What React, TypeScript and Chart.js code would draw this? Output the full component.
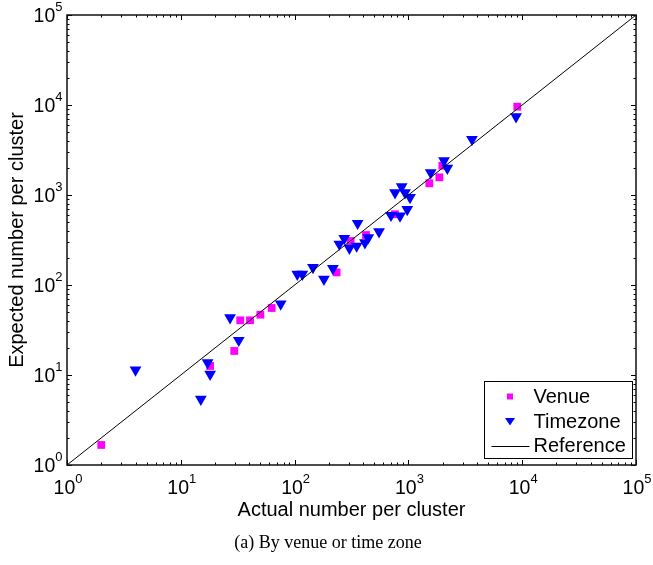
import React, { useEffect, useRef } from "react";
import { Chart, registerables } from "chart.js";

Chart.register(...registerables);

const venueX = [2, 18.1, 29.5, 33.3, 40.6, 50, 62.9, 234, 311, 424, 762, 1527, 1870, 1987, 9058];
const venueY = [1.67, 12.6, 18.5, 40.5, 40.5, 46.8, 55.5, 138, 308, 359, 611, 1350, 1573, 2117, 9574];

const timezoneX = [4.0, 15.0, 17.2, 18.1, 27.1, 32.3, 75.5, 105.6, 117, 145, 181, 217, 247, 273, 303, 351, 358, 415, 444, 552, 703, 844, 977, 763, 873, 934, 1033, 1571, 2055, 2198, 3620, 8830];
const timezoneY = [11.4, 5.4, 13.7, 10.2, 43.3, 24.3, 61.5, 132, 132, 157, 116, 153, 285, 330, 256, 271, 485, 295, 336, 391, 595, 584, 693, 1062, 1239, 1062, 942, 1770, 2405, 1982, 4157, 7415];

const referenceX = [1, 100000];
const referenceY = [1, 100000];

const tickExponents = [0, 1, 2, 3, 4, 5];

const seriesLabels = ["Venue", "Timezone", "Reference"];
const xTitle = "Actual number per cluster";
const yTitle = "Expected number per cluster";
const caption = "(a) By venue or time zone";

const SANS = '"Liberation Sans", Arial, Helvetica, sans-serif';

const decorPlugin = {
  id: "decor",
  afterDraw(chart: any) {
    const ctx = chart.ctx as CanvasRenderingContext2D;
    const xs = chart.scales.x;
    const ys = chart.scales.y;
    const { left, right, top, bottom } = chart.chartArea;
    ctx.save();

    // ticks (inward, all four sides)
    ctx.strokeStyle = "#000";
    ctx.lineWidth = 1;
    const majorLen = 5;
    const minorLen = 2.5;
    for (let e = 0; e <= 5; e++) {
      for (let m = 1; m <= 9; m++) {
        if (e === 5 && m > 1) break;
        const v = m * Math.pow(10, e);
        const len = m === 1 ? majorLen : minorLen;
        const px = Math.round(xs.getPixelForValue(v)) + 0.5;
        const py = Math.round(ys.getPixelForValue(v)) + 0.5;
        ctx.beginPath();
        ctx.moveTo(px, bottom);
        ctx.lineTo(px, bottom - len);
        ctx.moveTo(px, top);
        ctx.lineTo(px, top + len);
        ctx.moveTo(left, py);
        ctx.lineTo(left + len, py);
        ctx.moveTo(right, py);
        ctx.lineTo(right - len, py);
        ctx.stroke();
      }
    }

    // box
    ctx.strokeStyle = "#111";
    ctx.lineWidth = 1.5;
    ctx.strokeRect(left, top, right - left, bottom - top);

    // tick labels
    ctx.fillStyle = "#000";
    ctx.textBaseline = "alphabetic";
    const baseFont = "19.5px " + SANS;
    const expFont = "13px " + SANS;
    tickExponents.forEach((e) => {
      ctx.font = baseFont;
      const wb = ctx.measureText("10").width;
      ctx.font = expFont;
      const we = ctx.measureText(String(e)).width;
      // x axis
      const px = xs.getPixelForValue(Math.pow(10, e));
      const x0 = px - (wb + we) / 2 + 1;
      ctx.textAlign = "left";
      ctx.font = baseFont;
      ctx.fillText("10", x0, 493.5);
      ctx.font = expFont;
      ctx.fillText(String(e), x0 + wb, 482.5);
      // y axis
      const py = ys.getPixelForValue(Math.pow(10, e));
      const xr = left - 4.5;
      ctx.font = expFont;
      ctx.fillText(String(e), xr - we, py - 4);
      ctx.font = baseFont;
      ctx.fillText("10", xr - we - wb, py + 7.3);
    });

    // axis titles
    ctx.font = "20px " + SANS;
    ctx.textAlign = "center";
    ctx.fillText(xTitle, (left + right) / 2, 516);
    ctx.save();
    ctx.translate(23, (top + bottom) / 2);
    ctx.rotate(-Math.PI / 2);
    ctx.fillText(yTitle, 0, 0);
    ctx.restore();

    // caption
    ctx.font = '18px "Liberation Serif", "Times New Roman", serif';
    ctx.textAlign = "center";
    ctx.fillText(caption, 328, 547.5);

    // legend
    const lx0 = 484.5, ly0 = 381.5, lx1 = 632.5, ly1 = 458.5;
    ctx.fillStyle = "#fff";
    ctx.fillRect(lx0, ly0, lx1 - lx0, ly1 - ly0);
    ctx.strokeStyle = "#000";
    ctx.lineWidth = 1;
    ctx.strokeRect(lx0, ly0, lx1 - lx0, ly1 - ly0);
    const rows = [396.5, 421, 445.5];
    // venue marker
    ctx.fillStyle = "#ff00ff";
    ctx.fillRect(507, rows[0] - 3, 6, 6);
    // timezone marker
    ctx.fillStyle = "#0000ff";
    ctx.beginPath();
    ctx.moveTo(505, rows[1] - 3);
    ctx.lineTo(515, rows[1] - 3);
    ctx.lineTo(510, rows[1] + 4.5);
    ctx.closePath();
    ctx.fill();
    // reference line
    ctx.strokeStyle = "#000";
    ctx.lineWidth = 1;
    ctx.beginPath();
    ctx.moveTo(491.5, Math.round(rows[2]) + 0.5);
    ctx.lineTo(529.5, Math.round(rows[2]) + 0.5);
    ctx.stroke();
    ctx.fillStyle = "#000";
    ctx.font = "20px " + SANS;
    ctx.textAlign = "left";
    ctx.textBaseline = "middle";
    seriesLabels.forEach((t, i) => {
      ctx.fillText(t, 533.5, rows[i] + 1);
    });

    ctx.restore();
  },
};

export default function App() {
  const ref = useRef<HTMLCanvasElement | null>(null);
  useEffect(() => {
    if (!ref.current) return;
    const chart = new Chart(ref.current, {
      type: "scatter",
      data: {
        datasets: [
          {
            label: seriesLabels[0],
            data: venueX.map((x, i) => ({ x, y: venueY[i] })),
            pointStyle: "rect",
            pointRadius: 5.5,
            backgroundColor: "#ff00ff",
            borderColor: "#ff00ff",
            borderWidth: 0,
            order: 3,
          },
          {
            type: "scatter",
            label: seriesLabels[1],
            data: timezoneX.map((x, i) => ({ x, y: timezoneY[i] })),
            pointStyle: "triangle",
            rotation: 180,
            pointRadius: 6.8,
            backgroundColor: "#0000ff",
            borderColor: "#0000ff",
            borderWidth: 0,
            order: 2,
          },
          {
            type: "line",
            label: seriesLabels[2],
            data: referenceX.map((x, i) => ({ x, y: referenceY[i] })),
            borderColor: "#000",
            borderWidth: 1,
            pointRadius: 0,
            fill: false,
            order: 1,
          } as any,
        ],
      },
      options: {
        responsive: false,
        animation: false,
        layout: { padding: { left: 67, top: 15, right: 17, bottom: 100 } },
        plugins: { legend: { display: false }, tooltip: { enabled: false } },
        scales: {
          x: { type: "logarithmic", min: 1, max: 100000, display: false },
          y: { type: "logarithmic", min: 1, max: 100000, display: false },
        },
      },
      plugins: [decorPlugin],
    });
    return () => chart.destroy();
  }, []);
  return (
    <div style={{ position: "fixed", left: 0, top: 0, width: 653, height: 565, background: "#fff" }}>
      <canvas ref={ref} width={653} height={565} style={{ display: "block" }} />
    </div>
  );
}
